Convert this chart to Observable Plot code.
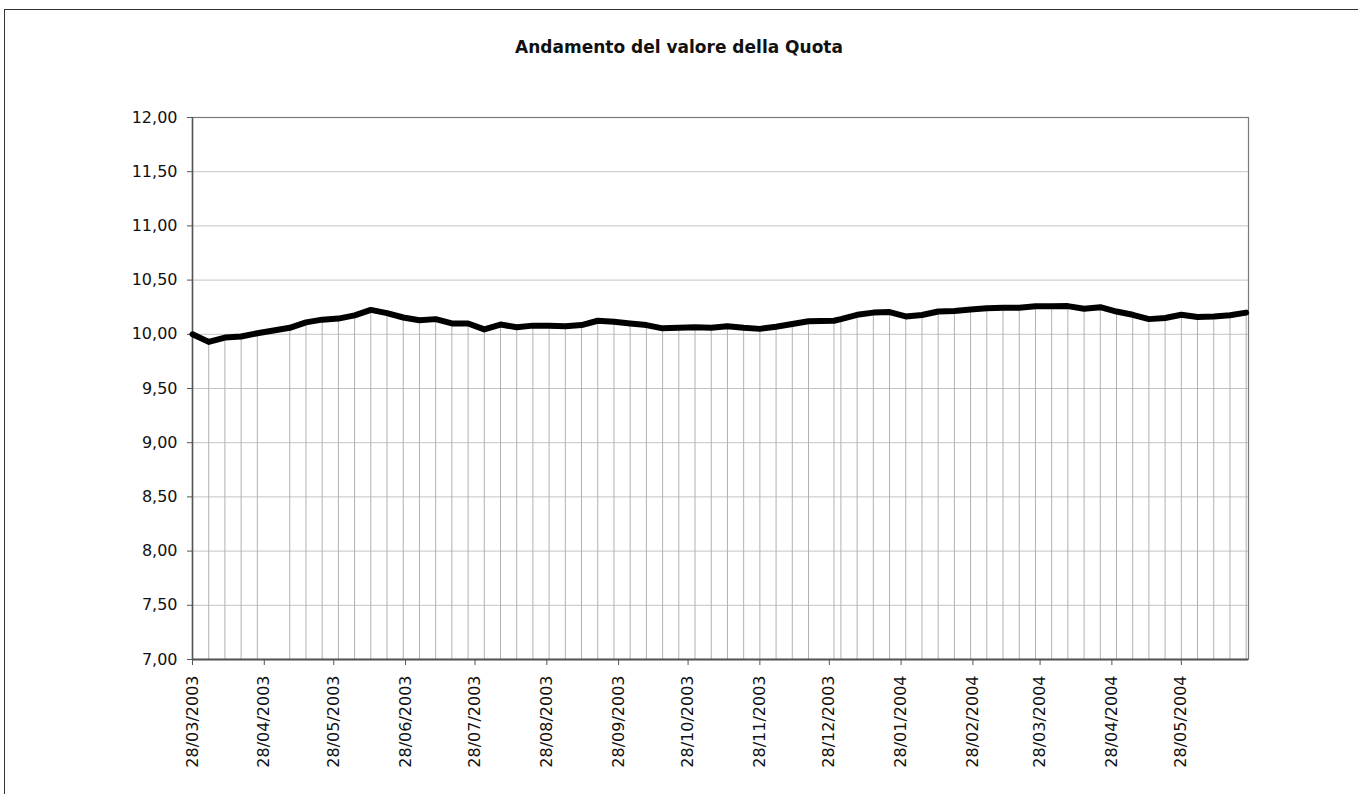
<!DOCTYPE html>
<html>
<head>
<meta charset="utf-8">
<script src="https://cdn.jsdelivr.net/npm/d3@7"></script>
<script src="https://cdn.jsdelivr.net/npm/@observablehq/plot@0.6"></script>
<style>
  html, body { margin: 0; padding: 0; background: #fff; }
  body { width: 1358px; height: 794px; position: relative; overflow: hidden; font-family: "DejaVu Sans", sans-serif; }
  #frame { position: absolute; left: 4px; top: 9px; right: -2px; bottom: -2px; border-top: 1px solid #333; border-left: 1px solid #333; }
  #title { position: absolute; left: 0; top: 0; width: 1358px; height: 80px; }
  #title span { position: absolute; left: 0; width: 1358px; top: 37px; text-align: center; font-weight: bold; font-size: 17px; color: #111; }
  #chart { position: absolute; left: 0; top: 80px; }
</style>
</head>
<body>
<div id="frame"></div>
<div id="title"><span>Andamento del valore della Quota</span></div>
<div id="chart"></div>
<script>
const dates = [
  "2003-03-28","2003-04-04","2003-04-11","2003-04-18","2003-04-25",
  "2003-05-09","2003-05-16","2003-05-23","2003-05-30","2003-06-06",
  "2003-06-13","2003-06-20","2003-06-27","2003-07-04","2003-07-11",
  "2003-07-18","2003-07-25","2003-08-01","2003-08-08","2003-08-15",
  "2003-08-22","2003-08-29","2003-09-05","2003-09-12","2003-09-19",
  "2003-09-26","2003-10-03","2003-10-10","2003-10-17","2003-10-24",
  "2003-10-31","2003-11-07","2003-11-14","2003-11-21","2003-11-28",
  "2003-12-05","2003-12-12","2003-12-19","2003-12-30","2004-01-02",
  "2004-01-09","2004-01-16","2004-01-23","2004-01-30","2004-02-06",
  "2004-02-13","2004-02-20","2004-02-27","2004-03-05","2004-03-12",
  "2004-03-19","2004-03-26","2004-04-02","2004-04-09","2004-04-16",
  "2004-04-23","2004-04-30","2004-05-07","2004-05-14","2004-05-21",
  "2004-05-28","2004-06-04","2004-06-11","2004-06-18","2004-06-25"
];
const values = [
  10.00, 9.93, 9.97, 9.98, 10.01,
  10.06, 10.11, 10.135, 10.145, 10.175,
  10.225, 10.195, 10.155, 10.13, 10.14,
  10.10, 10.10, 10.045, 10.09, 10.065,
  10.08, 10.08, 10.075, 10.085, 10.125,
  10.115, 10.10, 10.085, 10.055, 10.06,
  10.065, 10.06, 10.075, 10.06, 10.05,
  10.07, 10.095, 10.12, 10.125, 10.14,
  10.18, 10.20, 10.205, 10.165, 10.178,
  10.21, 10.215, 10.228, 10.24, 10.245,
  10.245, 10.258, 10.258, 10.26, 10.235,
  10.25, 10.21, 10.18, 10.14, 10.15,
  10.18, 10.16, 10.165, 10.175, 10.20
];
const xTickDates = [
  "2003-03-28","2003-04-28","2003-05-28","2003-06-28","2003-07-28",
  "2003-08-28","2003-09-28","2003-10-28","2003-11-28","2003-12-28",
  "2004-01-28","2004-02-28","2004-03-28","2004-04-28","2004-05-28"
];
const yTicks = [7, 7.5, 8, 8.5, 9, 9.5, 10, 10.5, 11, 11.5, 12];
const xStart = "2003-03-28";
const xEnd = "2004-06-26";

const data = dates.map((d, i) => ({date: new Date(d), value: values[i]}));
const xTicks = xTickDates.map(d => new Date(d));
const fmtDate = d3.utcFormat("%d/%m/%Y");
const fmtNum = d => d.toFixed(2).replace(".", ",");

const chart = Plot.plot({
  width: 1358,
  height: 714,
  marginLeft: 192,
  marginRight: 110,
  marginTop: 37,
  marginBottom: 135,
  style: {fontFamily: "DejaVu Sans, sans-serif", fontSize: "16px", color: "#111", background: "transparent"},
  x: {type: "utc", domain: [new Date(xStart), new Date(xEnd)]},
  y: {domain: [7, 12]},
  marks: [
    Plot.ruleY(yTicks, {stroke: "#c4c4c4", strokeWidth: 1}),
    Plot.ruleX(data, {x: "date", y1: 7, y2: "value", stroke: "#b0b0b0", strokeWidth: 1}),
    Plot.frame({stroke: "#7a7a7a", strokeWidth: 1.2}),
    Plot.ruleY([7], {stroke: "#555", strokeWidth: 2}),
    Plot.ruleX([new Date(xStart)], {stroke: "#555", strokeWidth: 1.5}),
    Plot.axisY({ticks: yTicks, tickFormat: fmtNum, tickSize: 5, tickPadding: 10, label: null, stroke: "#555"}),
    Plot.axisX({ticks: xTicks, tickFormat: fmtDate, tickRotate: -90, tickSize: 6, tickPadding: 10, label: null, stroke: "#555"}),
    Plot.line(data, {x: "date", y: "value", stroke: "#000", strokeWidth: 6, strokeLinejoin: "round"})
  ]
});
document.getElementById("chart").appendChild(chart);
</script>
</body>
</html>
